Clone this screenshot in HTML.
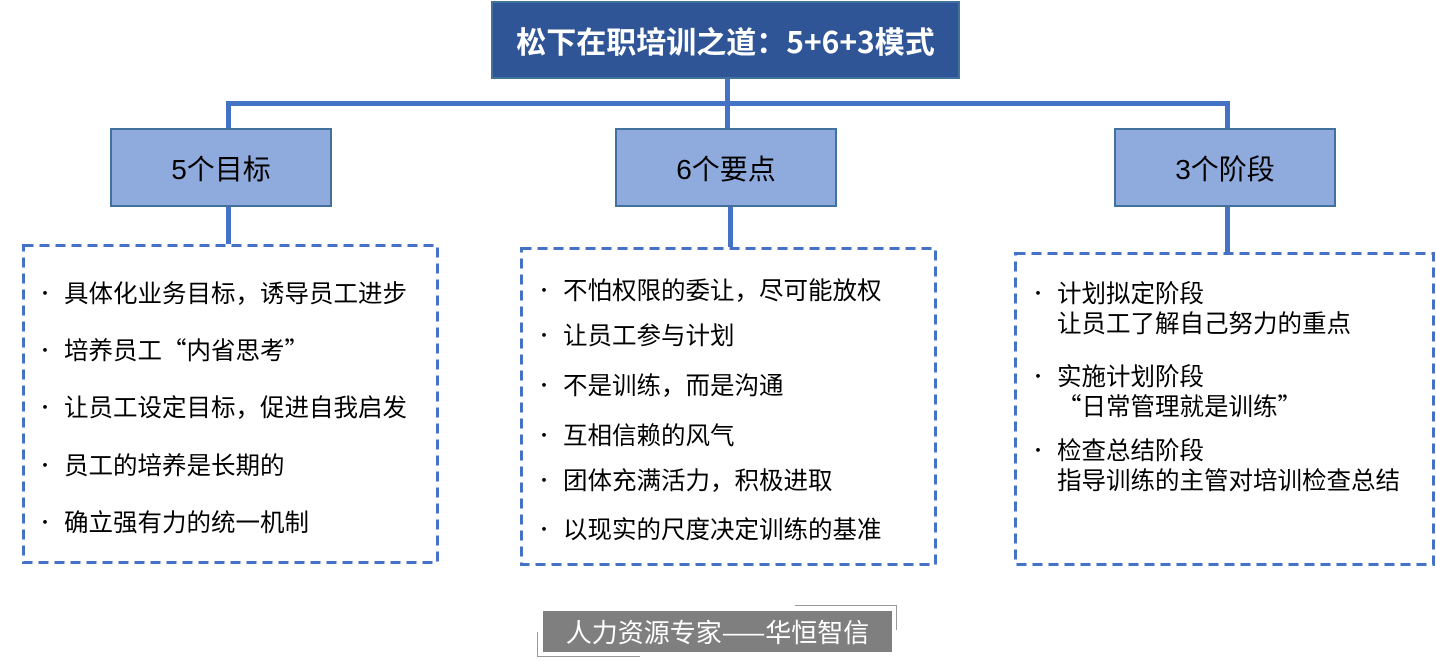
<!DOCTYPE html>
<html><head><meta charset="utf-8"><style>
body{margin:0;width:1436px;height:661px;background:#fff;position:relative;overflow:hidden;font-family:"Liberation Sans","Noto Sans CJK SC",sans-serif;}
.a{position:absolute;box-sizing:border-box}
.ln{position:absolute;background:#4472c4}
.top{left:491px;top:1px;width:469px;height:78px;background:#2f5597;border:2px solid #41719c;color:#fff;font-weight:bold;font-size:30px;display:flex;align-items:center;justify-content:center;font-family:"Noto Sans CJK SC",sans-serif}
.mid{background:#8faadc;border:2px solid #41719c;font-size:28px;display:flex;align-items:center;justify-content:center;color:#000;height:79px;width:222px;top:128px}
.it{position:absolute;font-size:24.5px;color:#000;white-space:nowrap;line-height:30px;font-family:"Noto Sans CJK SC",sans-serif}
.it:before{content:"•";position:absolute;left:-28px;font-size:18px}
</style></head><body>
<div class="a top">松下在职培训之道：5+6+3模式</div>
<div class="ln" style="left:725px;top:79px;width:5px;height:49px"></div>
<div class="ln" style="left:226px;top:101px;width:1004px;height:5px"></div>
<div class="ln" style="left:226px;top:101px;width:5px;height:27px"></div>
<div class="ln" style="left:1225px;top:101px;width:5px;height:27px"></div>
<div class="a mid" style="left:110px">5个目标</div>
<div class="a mid" style="left:615px">6个要点</div>
<div class="a mid" style="left:1114px">3个阶段</div>
<div class="ln" style="left:226px;top:207px;width:5px;height:37px"></div>
<div class="ln" style="left:728px;top:207px;width:5px;height:40px"></div>
<div class="ln" style="left:1225px;top:207px;width:5px;height:45px"></div>
<svg class="a" style="left:0;top:0" width="1436" height="661">
<g fill="none" stroke="#4472c4" stroke-width="3" stroke-dasharray="10 6">
<rect x="23.5" y="245.5" width="414" height="317"/>
<rect x="521.5" y="248.5" width="414" height="316"/>
<rect x="1015.5" y="253.5" width="418" height="311"/>
</g></svg>
<div class="it" style="left:64px;top:278px">具体化业务目标，诱导员工进步</div>
<div class="it" style="left:64px;top:335px">培养员工“内省思考”</div>
<div class="it" style="left:64px;top:392px">让员工设定目标，促进自我启发</div>
<div class="it" style="left:64px;top:450px">员工的培养是长期的</div>
<div class="it" style="left:64px;top:507px">确立强有力的统一机制</div>
<div class="it" style="left:563px;top:275px">不怕权限的委让，尽可能放权</div>
<div class="it" style="left:563px;top:320px">让员工参与计划</div>
<div class="it" style="left:563px;top:370px">不是训练，而是沟通</div>
<div class="it" style="left:563px;top:420px">互相信赖的风气</div>
<div class="it" style="left:563px;top:465px">团体充满活力，积极进取</div>
<div class="it" style="left:563px;top:514px">以现实的尺度决定训练的基准</div>
<div class="it" style="left:1057px;top:278px">计划拟定阶段<br>让员工了解自己努力的重点</div>
<div class="it" style="left:1057px;top:361px">实施计划阶段<br>“日常管理就是训练”</div>
<div class="it" style="left:1057px;top:435px">检查总结阶段<br>指导训练的主管对培训检查总结</div>
<div class="a" style="left:543px;top:611px;width:349px;height:41px;background:#7f7f7f;color:#fff;font-size:26px;display:flex;align-items:center;justify-content:center;font-family:'Noto Sans CJK SC',sans-serif">人力资源专家——华恒智信</div>
<div class="a" style="left:795px;top:605px;width:102px;height:25px;border-top:1px solid #999;border-right:1px solid #999"></div>
<div class="a" style="left:537px;top:632px;width:103px;height:25px;border-bottom:1px solid #999;border-left:1px solid #999"></div>
</body></html>
